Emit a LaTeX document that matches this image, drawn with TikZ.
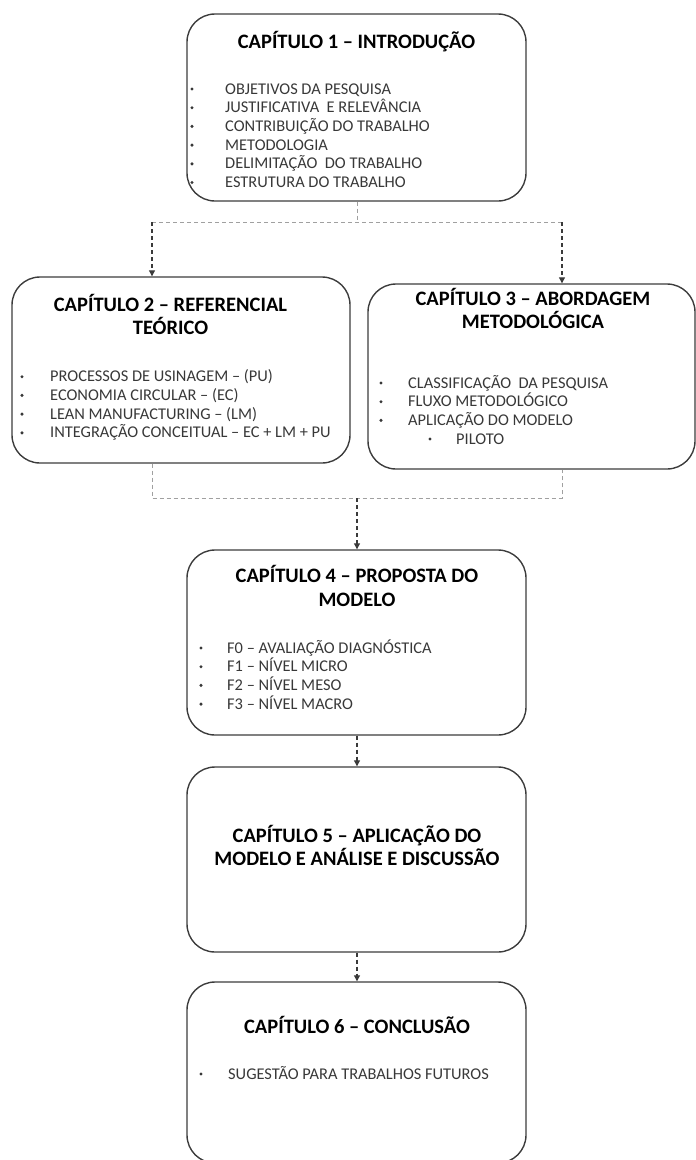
\documentclass[tikz,border=0pt]{standalone}
\usepackage{fontspec}
\setmainfont{Carlito}
\usetikzlibrary{arrows.meta}
\definecolor{boxline}{HTML}{3C3C3C}
\definecolor{bodytext}{HTML}{383838}
\definecolor{linkgray}{HTML}{A0A0A0}
\definecolor{linkdark}{HTML}{3A3A3A}
\tikzset{
  chapbox/.style={draw=boxline, line width=1.4pt, rounded corners=28pt, inner sep=0pt},
  chaptitle/.style={anchor=base, inner sep=0pt, font=\fontsize{20.5}{23.3}\selectfont\bfseries, align=center, text=black},
  itemtext/.style={anchor=base west, inner sep=0pt, font=\fontsize{16.4}{18.7}\selectfont, text=bodytext},
  bulletdot/.style={circle, fill=bodytext, inner sep=0pt, minimum size=3.4pt}
}
\tikzset{
  graylink/.style={draw=linkgray, line width=1pt, dash pattern=on 4pt off 3pt},
  darklink/.style={draw=linkdark, line width=1.1pt, dash pattern=on 4pt off 3pt,
    -{Triangle[length=6pt,width=6pt]}}
}
\newcommand{\itemlist}[4]{% x of bullet, x of text, first baseline, list of items
  \foreach \t [count=\i from 0] in {#4} {
    \node[bulletdot] at (#1, #3 + 18.7*\i - 5) {};
    \node[itemtext] at (#2, #3 + 18.7*\i) {\t};
  }}
\begin{document}
\begin{tikzpicture}[x=1pt,y=-1pt]
\useasboundingbox (0,0) rectangle (696,1160);

% chapter boxes
\node[chapbox, minimum width=339pt, minimum height=187pt] (c1) at (356.5,107.5) {};
\node[chapbox, minimum width=338pt, minimum height=186pt] (c2) at (181,370) {};
\node[chapbox, minimum width=327pt, minimum height=185pt] (c3) at (531.5,376.5) {};
\node[chapbox, minimum width=339pt, minimum height=185pt] (c4) at (356.5,642.5) {};
\node[chapbox, minimum width=339pt, minimum height=185pt] (c5) at (356.5,859.5) {};
\node[chapbox, minimum width=339pt, minimum height=181pt] (c6) at (356.5,1072.5) {};

% chapter 1
\node[chaptitle] (t1) at (356.5,48) {CAPÍTULO 1 – INTRODUÇÃO};
\itemlist{192}{225}{94}{OBJETIVOS DA PESQUISA, JUSTIFICATIVA\ \ E RELEVÂNCIA, CONTRIBUIÇÃO DO TRABALHO, METODOLOGIA, DELIMITAÇÃO\ \ DO TRABALHO, ESTRUTURA DO TRABALHO}

% chapter 2
\node[chaptitle] (t2a) at (170.5,311) {CAPÍTULO 2 – REFERENCIAL};
\node[chaptitle] (t2b) at (170.5,334) {TEÓRICO};
\itemlist{22}{50}{381.7}{PROCESSOS DE USINAGEM – (PU), ECONOMIA CIRCULAR – (EC), LEAN MANUFACTURING – (LM), INTEGRAÇÃO CONCEITUAL – EC + LM + PU}

% chapter 3
\node[chaptitle] (t3a) at (533,305) {CAPÍTULO 3 – ABORDAGEM};
\node[chaptitle] (t3b) at (533,328) {METODOLÓGICA};
\itemlist{381}{408}{388}{CLASSIFICAÇÃO\ \ DA PESQUISA, FLUXO METODOLÓGICO, APLICAÇÃO DO MODELO}
\node[bulletdot] (b3p) at (430,439) {};
\node[itemtext] (i3p) at (456,444) {PILOTO};

% chapter 4
\node[chaptitle] (t4a) at (357,582) {CAPÍTULO 4 – PROPOSTA DO};
\node[chaptitle] (t4b) at (357,606) {MODELO};
\itemlist{201}{227}{653}{F0 – AVALIAÇÃO DIAGNÓSTICA, F1 – NÍVEL MICRO, F2 – NÍVEL MESO, F3 – NÍVEL MACRO}

% chapter 5
\node[chaptitle] (t5a) at (357,842) {CAPÍTULO 5 – APLICAÇÃO DO};
\node[chaptitle] (t5b) at (357,865) {MODELO E ANÁLISE E DISCUSSÃO};

% chapter 6
\node[chaptitle] (t6) at (357,1033) {CAPÍTULO 6 – CONCLUSÃO};
\node[bulletdot] (b6) at (201,1074) {};
\node[itemtext] (i6) at (228,1079) {SUGESTÃO PARA TRABALHOS FUTUROS};

% split from chapter 1 to chapters 2 and 3
\coordinate (split) at (357,222);
\coordinate (sL) at (152,222);
\coordinate (sR) at (562,222);
\draw[graylink] (c1.south -| split) -- (split);
\draw[graylink] (sL) -- (sR);
\draw[darklink] (sL) -- (sL |- c2.north);
\draw[darklink] (sR) -- (sR |- c3.north);

% merge from chapters 2 and 3 into chapter 4
\coordinate (mL) at (152,498);
\coordinate (mR) at (562,498);
\coordinate (merge) at (357,498);
\draw[graylink] (c2.south -| mL) -- (mL) -- (mR) -- (c3.south -| mR);
\draw[darklink] (merge) -- (merge |- c4.north);

% chapter 4 to 5 to 6
\draw[darklink] (c4.south -| merge) -- (merge |- c5.north);
\draw[darklink] (c5.south -| merge) -- (merge |- c6.north);
\end{tikzpicture}
\end{document}
